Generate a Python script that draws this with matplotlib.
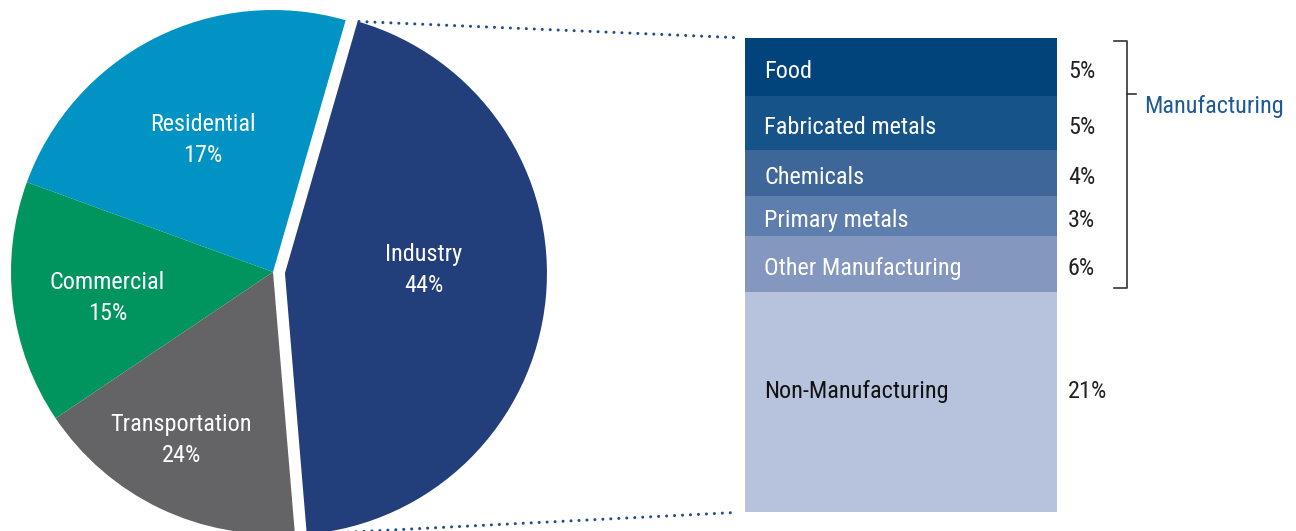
import numpy as np
import matplotlib.pyplot as plt
from matplotlib import transforms, font_manager
from matplotlib.patches import ConnectionPatch

# condensed face if present, otherwise plain Roboto at a smaller size
installed = {f.name for f in font_manager.fontManager.ttflist}
FS = 15
for fam, size in [('Roboto Condensed', 17.5), ('Liberation Sans Narrow', 17.5),
                  ('Archivo Narrow', 17)]:
    if fam in installed:
        plt.rcParams['font.family'] = [fam, 'DejaVu Sans']
        FS = size
        break
else:
    plt.rcParams['font.family'] = ['Roboto', 'DejaVu Sans']

# pie: sector sizes as drawn, and the percentages printed on them
pie_names = ['Residential', 'Commercial', 'Transportation', 'Industry']
pie_shares = [23.9, 15.0, 16.9, 44.2]
pie_pct = [17, 15, 24, 44]
pie_colors = ['#0093c4', '#00955f', '#646466', '#223e7b']

# bar of pie: Industry breakdown
bar_names = ['Food', 'Fabricated metals', 'Chemicals', 'Primary metals',
             'Other Manufacturing', 'Non-Manufacturing']
bar_shares = [5.35, 5.05, 4.25, 3.75, 5.15, 20.45]
bar_pct = [5, 5, 4, 3, 6, 21]
bar_colors = ['#00447b', '#155389', '#3f6698', '#5e7eae', '#8497bf', '#b7c2dc']
n_manufacturing = 5

W, H = 1296, 531
fig = plt.figure(figsize=(W / 100, H / 100), dpi=100)
ax = fig.add_axes([0, 0, 1, 1])

wedges, _ = ax.pie(pie_shares, colors=pie_colors, startangle=73.9,
                   center=(273, 259), radius=262,
                   explode=[0, 0, 0, 12],
                   wedgeprops=dict(linewidth=0))
ax.set_aspect('auto')
ax.set_xlim(0, W)
ax.set_ylim(0, H)
ax.axis('off')

label_r = [0.57, 0.64, 0.73, 0.53]
label_shift = [1, 2, -3, 7]
for w, name, pct, r, sh in zip(wedges, pie_names, pie_pct, label_r, label_shift):
    a = np.deg2rad((w.theta1 + w.theta2) / 2 + sh)
    cx, cy = w.center
    ax.text(cx + r * w.r * np.cos(a), cy + r * w.r * np.sin(a),
            f'{name}\n{pct}%', color='white', fontsize=FS,
            ha='center', va='center', linespacing=1.45)

# stacked bar
bax = fig.add_axes([745 / W, 19 / H, 312 / W, 474 / H])
bottoms = np.concatenate([[0], np.cumsum(bar_shares)[:-1]])
bax.bar(0.5, bar_shares, bottom=bottoms, width=1, color=bar_colors, linewidth=0)
bax.set_xlim(0, 1)
bax.set_ylim(sum(bar_shares), 0)
bax.axis('off')

trans = transforms.blended_transform_factory(bax.transAxes, bax.transData)
for i, (name, pct, b, s) in enumerate(zip(bar_names, bar_pct, bottoms, bar_shares)):
    tc = 'white' if i < n_manufacturing else '#111111'
    y = b + s / 2 + 0.2
    if i == len(bar_names) - 1:
        y -= 1.4
    bax.text(0.061, y, name, transform=trans, color=tc, fontsize=FS,
             ha='left', va='center_baseline')
    bax.text(1.035, y, f'{pct}%', transform=trans, color='#222222',
             fontsize=FS, ha='left', va='center_baseline')

# Manufacturing bracket
m_top = 0.3
m_bot = sum(bar_shares[:n_manufacturing]) - 0.3
m_mid = 0.22 * (m_bot + m_top)
bx, bx0, bx1 = 1.224, 1.183, 1.253
bax.plot([bx0, bx, bx, bx0], [m_top, m_top, m_bot, m_bot], transform=trans,
         color='#333333', lw=1.2, clip_on=False)
bax.plot([bx, bx1], [m_mid, m_mid], transform=trans, color='#333333',
         lw=1.2, clip_on=False)
bax.text(1.278, m_mid + 0.9, 'Manufacturing', transform=trans,
         color='#1f5a94', fontsize=FS, ha='left', va='center_baseline')

# dotted connectors from Industry wedge to bar
ind = wedges[3]
cx, cy = ind.center
for ang, yb in [(ind.theta2, 1), (ind.theta1, 0)]:
    a = np.deg2rad(ang)
    p = (cx + ind.r * np.cos(a), cy + ind.r * np.sin(a))
    con = ConnectionPatch(xyA=p, coordsA=ax.transData, xyB=(0, yb),
                          coordsB=bax.transAxes, arrowstyle='-',
                          shrinkA=1, shrinkB=5, color='#1f4e89', lw=2.2,
                          linestyle=(0, (0.01, 2.6)), capstyle='round')
    fig.add_artist(con)

fig.savefig('out.png', dpi=100)
